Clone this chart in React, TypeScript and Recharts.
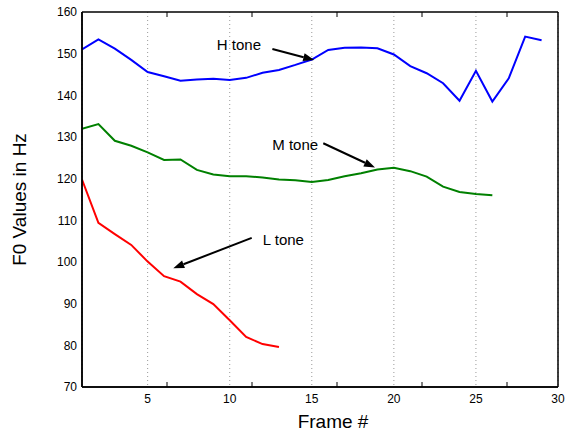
import React from 'react';
import { LineChart, Line, XAxis, YAxis, CartesianGrid, ReferenceLine, ReferenceDot } from 'recharts';

const frames = [1, 2, 3, 4, 5, 6, 7, 8, 9, 10, 11, 12, 13, 14, 15, 16, 17, 18, 19, 20, 21, 22, 23, 24, 25, 26, 27, 28, 29];
const hTone = [151.0, 153.4, 151.2, 148.5, 145.6, 144.6, 143.5, 143.8, 144.0, 143.7, 144.2, 145.4, 146.1, 147.3, 148.6, 150.9, 151.4, 151.5, 151.3, 149.8, 147.0, 145.3, 142.9, 138.7, 145.9, 138.5, 144.1, 154.1, 153.2];
const mTone = [132.0, 133.1, 129.1, 127.9, 126.3, 124.5, 124.6, 122.1, 121.0, 120.6, 120.6, 120.3, 119.8, 119.6, 119.2, 119.7, 120.6, 121.3, 122.2, 122.6, 121.8, 120.5, 118.1, 116.8, 116.3, 116.0];
const lTone = [119.8, 109.4, 106.7, 104.1, 100.1, 96.6, 95.3, 92.3, 89.9, 86.0, 82.0, 80.3, 79.6];

const xTicks = [5, 10, 15, 20, 25, 30];
const yTicks = [70, 80, 90, 100, 110, 120, 130, 140, 150, 160];

const noteLabels = ['H tone', 'M tone', 'L tone'];
const noteX = [10.56, 13.99, 13.27];
const noteY = [152.1, 128.1, 105.5];
const arrowFromX = [12.6, 15.7, 11.34];
const arrowFromY = [151.1, 128.5, 105.8];
const arrowToX = [15.15, 18.85, 6.56];
const arrowToY = [148.5, 122.7, 98.5];

const data = frames.map((f, i) => ({
  frame: f,
  h: hTone[i],
  m: i < mTone.length ? mTone[i] : undefined,
  l: i < lTone.length ? lTone[i] : undefined,
}));

const FONT = '"Liberation Sans", Arial, Helvetica, sans-serif';

const Arrow = (props: any) => {
  const { x1, y1, x2, y2 } = props;
  const ang = Math.atan2(y2 - y1, x2 - x1);
  const len = 11;
  const half = 4;
  const bx = x2 - len * Math.cos(ang);
  const by = y2 - len * Math.sin(ang);
  const px = -Math.sin(ang) * half;
  const py = Math.cos(ang) * half;
  return (
    <g>
      <line x1={x1} y1={y1} x2={bx} y2={by} stroke="#000" strokeWidth={2} />
      <polygon points={`${x2},${y2} ${bx + px},${by + py} ${bx - px},${by - py}`} fill="#000" />
    </g>
  );
};

const makeNote = (text: string) => (props: any) => (
  <text x={props.cx} y={props.cy} textAnchor="middle" dominantBaseline="central" fontSize={15} fontFamily={FONT} fill="#000">
    {text}
  </text>
);

const EmptyTick = () => <g />;

export default function App() {
  return (
    <div style={{ position: 'absolute', left: 0, top: 0, background: '#fff' }}>
      <LineChart width={565} height={433} data={data} margin={{ top: 12, right: 7, bottom: 0, left: 0 }} style={{ fontFamily: FONT }}>
        <CartesianGrid xAxisId="x" yAxisId="y" horizontal={false} stroke="#999" strokeDasharray="1 3" />
        <XAxis
          xAxisId="x"
          dataKey="frame"
          type="number"
          domain={[1, 30]}
          ticks={xTicks}
          allowDataOverflow
          height={46}
          tickLine={false}
          tickSize={0}
          tickMargin={7}
          axisLine={{ stroke: '#000', strokeWidth: 1.5 }}
          tick={{ fill: '#000', fontSize: 12 }}
          label={{ value: 'Frame #', position: 'insideBottom', offset: 5, dx: 13, fontSize: 19, fill: '#000' }}
        />
        <XAxis xAxisId="xb" type="number" domain={[1, 30]} ticks={xTicks} orientation="bottom" mirror tick={EmptyTick} tickSize={5} tickLine={{ stroke: '#000', strokeWidth: 1 }} axisLine={{ stroke: '#000', strokeWidth: 1.5 }} />
        <XAxis xAxisId="xt" type="number" domain={[1, 30]} ticks={xTicks} orientation="top" mirror tick={EmptyTick} tickSize={5} tickLine={{ stroke: '#000', strokeWidth: 1 }} axisLine={{ stroke: '#000', strokeWidth: 1.5 }} />
        <YAxis
          yAxisId="y"
          type="number"
          domain={[70, 160]}
          ticks={yTicks}
          allowDataOverflow
          width={82}
          tickLine={false}
          tickSize={0}
          tickMargin={5}
          axisLine={{ stroke: '#000', strokeWidth: 1.5 }}
          tick={{ fill: '#000', fontSize: 12 }}
          label={{ value: 'F0 Values in Hz', angle: -90, position: 'insideLeft', offset: 19, fontSize: 19, fill: '#000', style: { textAnchor: 'middle' } }}
        />
        <YAxis yAxisId="yl" type="number" domain={[70, 160]} ticks={yTicks} orientation="left" mirror tick={EmptyTick} tickSize={5} tickLine={{ stroke: '#000', strokeWidth: 1 }} axisLine={{ stroke: '#000', strokeWidth: 1.5 }} />
        <YAxis yAxisId="yr" type="number" domain={[70, 160]} ticks={yTicks} orientation="right" mirror tick={EmptyTick} tickSize={5} tickLine={{ stroke: '#000', strokeWidth: 1 }} axisLine={{ stroke: '#000', strokeWidth: 1.5 }} />
        <Line xAxisId="x" yAxisId="y" type="linear" dataKey="h" stroke="#0000ff" strokeWidth={2} dot={false} isAnimationActive={false} />
        <Line xAxisId="x" yAxisId="y" type="linear" dataKey="m" stroke="#008000" strokeWidth={2} dot={false} isAnimationActive={false} />
        <Line xAxisId="x" yAxisId="y" type="linear" dataKey="l" stroke="#ff0000" strokeWidth={2} dot={false} isAnimationActive={false} />
        {noteLabels.map((t, i) => (
          <ReferenceLine
            key={'a' + i}
            xAxisId="x"
            yAxisId="y"
            segment={[{ x: arrowFromX[i], y: arrowFromY[i] }, { x: arrowToX[i], y: arrowToY[i] }]}
            shape={Arrow}
          />
        ))}
        {noteLabels.map((t, i) => (
          <ReferenceDot key={'n' + i} xAxisId="x" yAxisId="y" x={noteX[i]} y={noteY[i]} r={0} shape={makeNote(t)} />
        ))}
      </LineChart>
    </div>
  );
}
